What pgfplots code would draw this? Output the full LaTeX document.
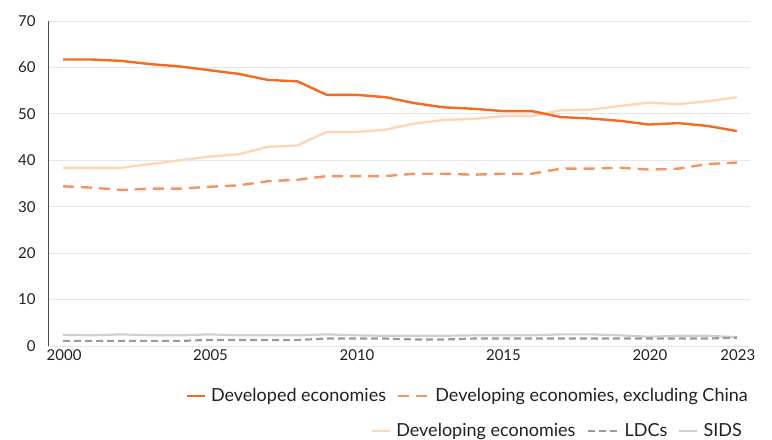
\documentclass[border=0pt]{standalone}
\usepackage{fontspec}
\setmainfont{Lato}
\usepackage{pgfplots}
\pgfplotsset{compat=1.18}

\definecolor{devd}{HTML}{F26B21}
\definecolor{devx}{HTML}{F7935C}
\definecolor{devg}{HTML}{FDD6B8}
\definecolor{ldc}{HTML}{9A9A9A}
\definecolor{sids}{HTML}{CFCFCF}
\definecolor{gridc}{HTML}{E6E6E6}
\definecolor{txt}{HTML}{231F20}

\pgfplotsset{
  base/.style={
    scale only axis, width=701bp, height=325bp,
    xmin=1999.52, xmax=2023.45, ymin=0, ymax=70,
    font=\fontsize{15bp}{18bp}\selectfont\color{txt},
  },
  legstyle/.style 2 args={
    legend style={at={(axis description cs:1,0)}, anchor=east,
      draw=none, fill=none, inner sep=0pt, yshift=#1, xshift=#2,
      font=\fontsize{18bp}{21bp}\selectfont\color{txt},
      /tikz/every even column/.append style={column sep=9bp}},
    legend columns=-1, legend cell align=left,
  },
  solidleg/.style={legend image code/.code={\draw[##1] (0bp,0bp) -- (18bp,0bp); \path (21bp,0bp);}},
  dashleg/.style={legend image code/.code={\draw[##1] (0bp,0bp) -- (31bp,0bp); \path (34bp,0bp);}},
}

\begin{document}
\begin{tikzpicture}
\begin{axis}[base, legstyle={-50bp}{0bp},
    axis lines*=left,
    x axis line style={draw=none},
    y axis line style={draw=black!70, line width=1bp},
    xtick={2000,2005,2010,2015,2020,2023},
    xticklabels={2000,2005,2010,2015,2020,2023},
    xticklabel style={xshift=1bp},
    ytick={0,10,...,70},
    tick style={draw=none}, major tick length=0pt,
    yticklabel style={xshift=-10bp},
    ymajorgrids, grid style={gridc, line width=0.8bp},
    /pgf/number format/assume math mode=true,
    /pgf/number format/1000 sep={},
  ]
  % SIDS
  \addplot[sids, line width=2.2bp, forget plot] coordinates {
    (2000,2.4)(2001,2.3)(2002,2.5)(2003,2.3)(2004,2.3)(2005,2.5)(2006,2.3)(2007,2.3)
    (2008,2.3)(2009,2.5)(2010,2.3)(2011,2.2)(2012,2.2)(2013,2.2)(2014,2.3)(2015,2.3)
    (2016,2.3)(2017,2.5)(2018,2.5)(2019,2.3)(2020,2.0)(2021,2.2)(2022,2.2)(2023,1.9)
  };
  % LDCs
  \addplot[ldc, line width=2.2bp, dash pattern=on 7bp off 4bp, forget plot] coordinates {
    (2000,1.1)(2001,1.1)(2002,1.1)(2003,1.1)(2004,1.1)(2005,1.3)(2006,1.3)(2007,1.3)
    (2008,1.3)(2009,1.6)(2010,1.6)(2011,1.6)(2012,1.4)(2013,1.4)(2014,1.6)(2015,1.6)
    (2016,1.6)(2017,1.6)(2018,1.6)(2019,1.6)(2020,1.6)(2021,1.6)(2022,1.6)(2023,1.8)
  };
  % Developing economies
  \addplot[devg, line width=2.4bp, forget plot] coordinates {
    (2000,38.4)(2001,38.4)(2002,38.4)(2003,39.2)(2004,40.0)(2005,40.8)(2006,41.3)(2007,42.9)
    (2008,43.2)(2009,46.1)(2010,46.1)(2011,46.6)(2012,47.9)(2013,48.7)(2014,48.9)(2015,49.5)
    (2016,49.5)(2017,50.8)(2018,50.9)(2019,51.7)(2020,52.4)(2021,52.1)(2022,52.7)(2023,53.6)
  };
  % Developed economies
  \addplot[devd, line width=2.4bp, solidleg] coordinates {
    (2000,61.7)(2001,61.7)(2002,61.4)(2003,60.7)(2004,60.2)(2005,59.4)(2006,58.6)(2007,57.3)
    (2008,57.0)(2009,54.1)(2010,54.1)(2011,53.6)(2012,52.3)(2013,51.4)(2014,51.1)(2015,50.6)
    (2016,50.6)(2017,49.3)(2018,49.0)(2019,48.5)(2020,47.7)(2021,48.0)(2022,47.4)(2023,46.3)
  };
  \addlegendentry{Developed economies}
  % Developing economies, excluding China
  \addplot[devx, line width=2.4bp, dash pattern=on 11bp off 7bp, dashleg] coordinates {
    (2000,34.4)(2001,34.1)(2002,33.6)(2003,33.9)(2004,33.9)(2005,34.3)(2006,34.6)(2007,35.5)
    (2008,35.8)(2009,36.6)(2010,36.6)(2011,36.6)(2012,37.1)(2013,37.1)(2014,36.9)(2015,37.1)
    (2016,37.1)(2017,38.2)(2018,38.2)(2019,38.4)(2020,38.0)(2021,38.2)(2022,39.2)(2023,39.5)
  };
  \addlegendentry{Developing economies, excluding China}
  % outward y tick marks
  \pgfplotsinvokeforeach{0,10,...,70}{
    \draw[black!75, line width=1.1bp] (axis cs:1999.52,#1) -- ++(-8bp,0bp);
  }
\end{axis}
\begin{axis}[base, hide axis, legstyle={-85bp}{-6bp}]
  \addlegendimage{devg, line width=2.4bp, solidleg}
  \addlegendentry{Developing economies}
  \addlegendimage{ldc, line width=2.2bp, dash pattern=on 7bp off 4bp, dashleg}
  \addlegendentry{LDCs}
  \addlegendimage{sids, line width=2.2bp, solidleg}
  \addlegendentry{SIDS}
\end{axis}
\pgfresetboundingbox
\path[use as bounding box] (-49bp,-94bp) rectangle (723bp,346bp);
\end{tikzpicture}
\end{document}
